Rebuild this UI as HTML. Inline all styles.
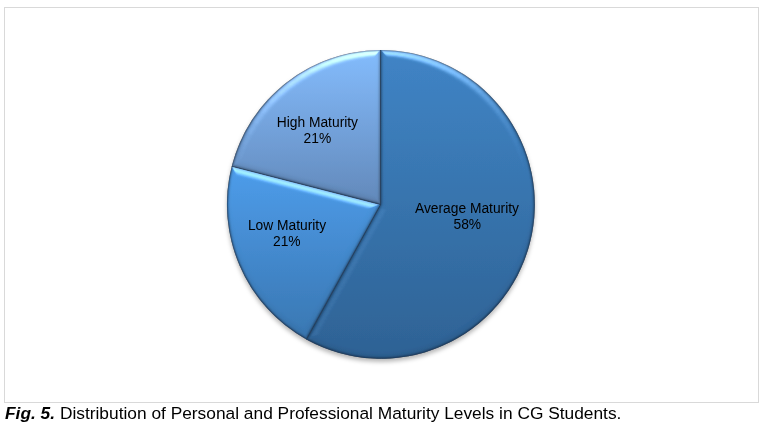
<!DOCTYPE html>
<html>
<head>
<meta charset="utf-8">
<style>
html,body{margin:0;padding:0;background:#fff;}
body{width:766px;height:425px;position:relative;overflow:hidden;font-family:"Liberation Sans",Arial,sans-serif;}
.box{position:absolute;left:4px;top:7px;width:753px;height:394px;border:1px solid #d9d9d9;background:#fff;}
svg{position:absolute;left:0;top:0;will-change:transform;}
.cap{position:absolute;left:5px;top:403px;will-change:transform;font-size:17.33px;line-height:20px;color:#000;white-space:nowrap;}
.cap b{font-style:italic;}
</style>
</head>
<body>
<div class="box"></div>
<svg width="766" height="425" viewBox="0 0 766 425">
<defs>
  <linearGradient id="gAvg" x1="0" y1="50" x2="0" y2="358" gradientUnits="userSpaceOnUse">
    <stop offset="0" stop-color="#4085c7"/>
    <stop offset="1" stop-color="#2e6295"/>
  </linearGradient>
  <linearGradient id="gOut" x1="0" y1="50.400000000000006" x2="0" y2="358.4" gradientUnits="userSpaceOnUse">
    <stop offset="0" stop-color="#1d3a5e" stop-opacity="0.35"/>
    <stop offset="0.35" stop-color="#1d3a5e" stop-opacity="0.4"/>
    <stop offset="1" stop-color="#1d3a5e" stop-opacity="0.6"/>
  </linearGradient>
  <linearGradient id="gLow" x1="0" y1="165" x2="0" y2="340" gradientUnits="userSpaceOnUse">
    <stop offset="0" stop-color="#4e9eec"/>
    <stop offset="1" stop-color="#3977b2"/>
  </linearGradient>
  <linearGradient id="gHigh" x1="0" y1="50" x2="0" y2="205" gradientUnits="userSpaceOnUse">
    <stop offset="0" stop-color="#84bdfe"/>
    <stop offset="1" stop-color="#6289ba"/>
  </linearGradient>
  <filter id="bev" x="-3%" y="-3%" width="106%" height="106%" color-interpolation-filters="sRGB">
<feMorphology in="SourceAlpha" operator="erode" radius="1" result="e1"/><feMorphology in="SourceAlpha" operator="erode" radius="2" result="e2"/><feMorphology in="SourceAlpha" operator="erode" radius="3" result="e3"/><feMorphology in="SourceAlpha" operator="erode" radius="4" result="e4"/><feMorphology in="SourceAlpha" operator="erode" radius="5" result="e5"/><feMorphology in="SourceAlpha" operator="erode" radius="6" result="e6"/><feComposite in="SourceAlpha" in2="e1" operator="arithmetic" k2="0.3015" k3="0.2393" result="s1"/><feComposite in="s1" in2="e2" operator="arithmetic" k2="1" k3="0.1820" result="s2"/><feComposite in="s2" in2="e3" operator="arithmetic" k2="1" k3="0.1302" result="s3"/><feComposite in="s3" in2="e4" operator="arithmetic" k2="1" k3="0.0846" result="s4"/><feComposite in="s4" in2="e5" operator="arithmetic" k2="1" k3="0.0460" result="s5"/><feComposite in="s5" in2="e6" operator="arithmetic" k2="1" k3="0.0163" result="s6"/><feGaussianBlur in="s6" stdDeviation="0.8" result="b"/>
    <feDiffuseLighting in="b" surfaceScale="3.5" diffuseConstant="1" lighting-color="#fff" result="d">
      <feDistantLight azimuth="270" elevation="45"/>
    </feDiffuseLighting>
    <feComponentTransfer in="d" result="m"><feFuncR type="table" tableValues="0.940 0.942 0.944 0.946 0.948 0.951 0.953 0.955 0.957 0.959 0.961 0.963 0.965 0.968 0.970 0.972 0.974 0.976 0.978 0.980 0.982 0.985 0.987 0.989 0.991 0.993 0.995 0.997 0.999 1.000 1.000 1.000 1.000 1.000 1.000 1.000 1.000 1.000 1.000 1.000 1.000"/><feFuncG type="table" tableValues="0.940 0.942 0.944 0.946 0.948 0.951 0.953 0.955 0.957 0.959 0.961 0.963 0.965 0.968 0.970 0.972 0.974 0.976 0.978 0.980 0.982 0.985 0.987 0.989 0.991 0.993 0.995 0.997 0.999 1.000 1.000 1.000 1.000 1.000 1.000 1.000 1.000 1.000 1.000 1.000 1.000"/><feFuncB type="table" tableValues="0.940 0.942 0.944 0.946 0.948 0.951 0.953 0.955 0.957 0.959 0.961 0.963 0.965 0.968 0.970 0.972 0.974 0.976 0.978 0.980 0.982 0.985 0.987 0.989 0.991 0.993 0.995 0.997 0.999 1.000 1.000 1.000 1.000 1.000 1.000 1.000 1.000 1.000 1.000 1.000 1.000"/></feComponentTransfer>
    <feComponentTransfer in="d" result="a"><feFuncR type="table" tableValues="0.000 0.000 0.000 0.000 0.000 0.000 0.000 0.000 0.000 0.000 0.000 0.000 0.000 0.000 0.000 0.000 0.000 0.000 0.000 0.000 0.000 0.000 0.000 0.000 0.000 0.000 0.000 0.000 0.000 0.002 0.012 0.027 0.047 0.072 0.102 0.136 0.174 0.217 0.264 0.315 0.370"/><feFuncG type="table" tableValues="0.000 0.000 0.000 0.000 0.000 0.000 0.000 0.000 0.000 0.000 0.000 0.000 0.000 0.000 0.000 0.000 0.000 0.000 0.000 0.000 0.000 0.000 0.000 0.000 0.000 0.000 0.000 0.000 0.000 0.002 0.012 0.027 0.047 0.072 0.102 0.136 0.174 0.217 0.264 0.315 0.370"/><feFuncB type="table" tableValues="0.000 0.000 0.000 0.000 0.000 0.000 0.000 0.000 0.000 0.000 0.000 0.000 0.000 0.000 0.000 0.000 0.000 0.000 0.000 0.000 0.000 0.000 0.000 0.000 0.000 0.000 0.000 0.000 0.000 0.002 0.012 0.027 0.047 0.072 0.102 0.136 0.174 0.217 0.264 0.315 0.370"/></feComponentTransfer>
    <feGaussianBlur in="SourceAlpha" stdDeviation="1.5" result="b2"/>
    <feDiffuseLighting in="b2" surfaceScale="2.5" diffuseConstant="1" lighting-color="#fff" result="d1">
      <feDistantLight azimuth="0" elevation="90"/>
    </feDiffuseLighting>
    <feComponentTransfer in="d1" result="u"><feFuncR type="table" tableValues="0.375 0.391 0.406 0.422 0.438 0.453 0.469 0.484 0.500 0.516 0.531 0.547 0.562 0.578 0.594 0.609 0.625 0.641 0.656 0.672 0.688 0.703 0.719 0.734 0.750 0.766 0.781 0.797 0.812 0.828 0.844 0.859 0.875 0.891 0.906 0.922 0.938 0.953 0.969 0.984 1.000"/><feFuncG type="table" tableValues="0.375 0.391 0.406 0.422 0.438 0.453 0.469 0.484 0.500 0.516 0.531 0.547 0.562 0.578 0.594 0.609 0.625 0.641 0.656 0.672 0.688 0.703 0.719 0.734 0.750 0.766 0.781 0.797 0.812 0.828 0.844 0.859 0.875 0.891 0.906 0.922 0.938 0.953 0.969 0.984 1.000"/><feFuncB type="table" tableValues="0.375 0.391 0.406 0.422 0.438 0.453 0.469 0.484 0.500 0.516 0.531 0.547 0.562 0.578 0.594 0.609 0.625 0.641 0.656 0.672 0.688 0.703 0.719 0.734 0.750 0.766 0.781 0.797 0.812 0.828 0.844 0.859 0.875 0.891 0.906 0.922 0.938 0.953 0.969 0.984 1.000"/></feComponentTransfer>
    <feComposite in="SourceGraphic" in2="m" operator="arithmetic" k1="1" k2="0" k3="0" k4="0" result="lit0"/>
    <feComposite in="lit0" in2="u" operator="arithmetic" k1="1" k2="0" k3="0" k4="0" result="lit"/>
    <feComposite in="lit" in2="a" operator="arithmetic" k1="0" k2="1" k3="1" k4="0" result="sum"/>
    <feComposite in="sum" in2="SourceAlpha" operator="in"/>
  </filter>
  <filter id="sh" x="-10%" y="-10%" width="120%" height="120%">
    <feGaussianBlur in="SourceAlpha" stdDeviation="2.2"/>
    <feOffset dx="0" dy="3" result="o"/>
    <feFlood flood-color="#000" flood-opacity="0.28"/>
    <feComposite in2="o" operator="in" result="s"/>
    <feMerge><feMergeNode in="s"/><feMergeNode in="SourceGraphic"/></feMerge>
  </filter>
</defs>
<g filter="url(#sh)">
<path d="M380.55,204.4 L380.55,50.10 A153.9,154.3 0 1,1 306.34,339.38 Z" fill="url(#gAvg)" filter="url(#bev)"/>
<path d="M380.55,204.4 L306.34,339.38 A153.9,154.3 0 0,1 231.79,166.20 Z" fill="url(#gLow)" filter="url(#bev)"/>
<path d="M380.55,204.4 L231.79,166.20 A153.9,154.3 0 0,1 380.55,50.10 Z" fill="url(#gHigh)" filter="url(#bev)"/>
<g fill="none" stroke-width="1.1" stroke-linejoin="round">
<path d="M380.55,50.10 L380.55,204.4 L306.34,339.38 M380.55,204.4 L231.79,166.20" stroke="#1d3a5e" stroke-opacity="0.7"/>
<ellipse cx="380.9" cy="204.4" rx="153.5" ry="153.9" stroke="url(#gOut)"/>
</g>
</g>
<g font-family="Liberation Sans, Arial, sans-serif" font-size="13.8" fill="#000" text-anchor="middle">
  <text x="317.4" y="126.7">High Maturity</text>
  <text x="317.4" y="143.4">21%</text>
  <text x="287" y="229.9">Low Maturity</text>
  <text x="286.8" y="246.2">21%</text>
  <text x="467" y="212.9">Average Maturity</text>
  <text x="467.3" y="228.5">58%</text>
</g>
</svg>
<div class="cap"><b>Fig. 5.</b> Distribution of Personal and Professional Maturity Levels in CG Students.</div>
</body>
</html>
